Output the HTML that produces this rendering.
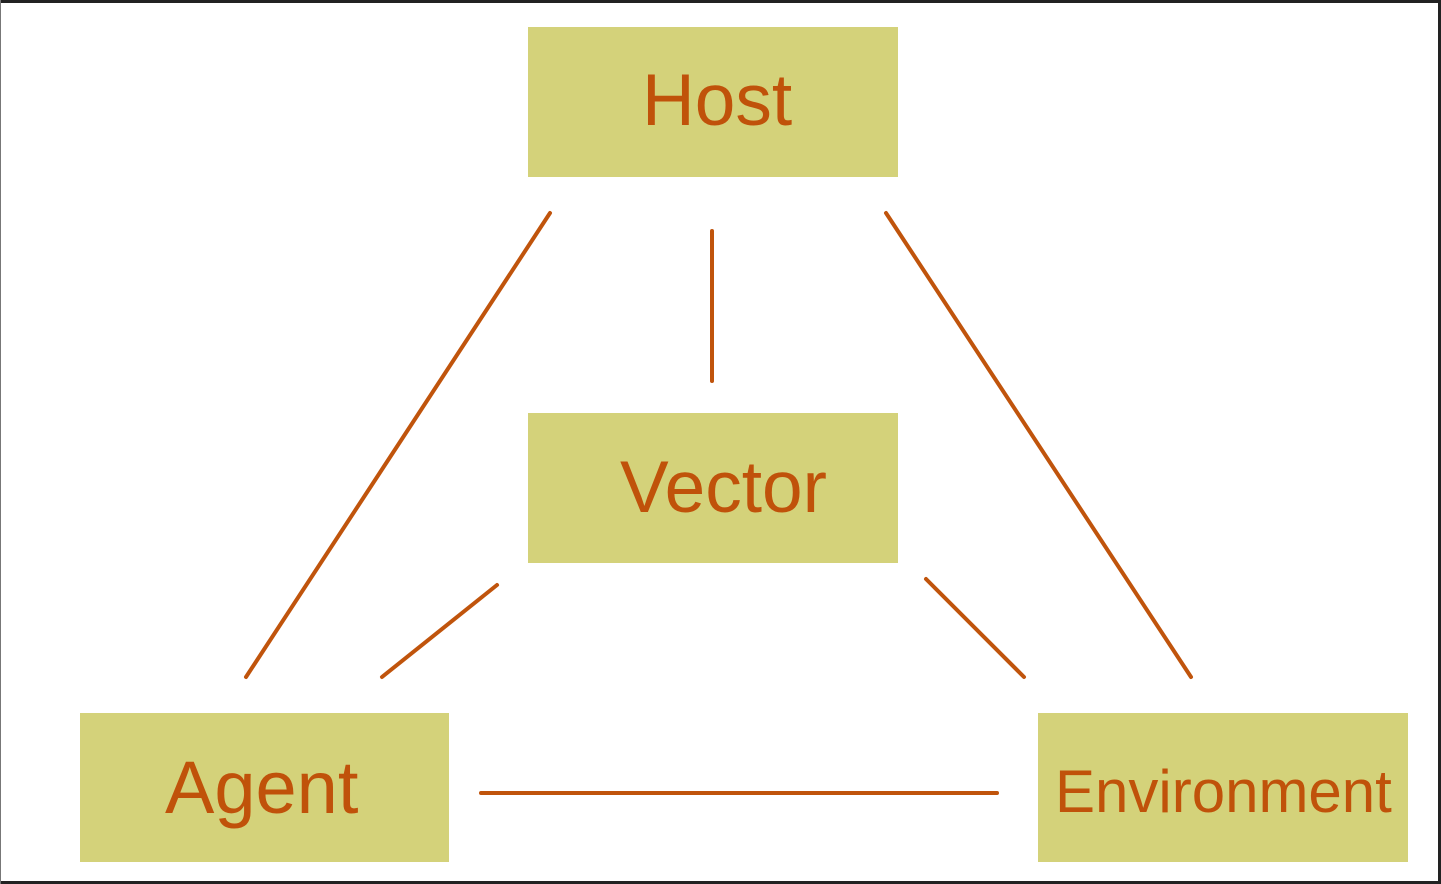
<!DOCTYPE html>
<html><head><meta charset="utf-8"><style>
html,body{margin:0;padding:0;background:#fff;}
body{width:1441px;height:884px;overflow:hidden;position:relative;}
svg{position:absolute;left:0;top:0;}
</style></head><body>
<svg width="1441" height="884" viewBox="0 0 1441 884" xmlns="http://www.w3.org/2000/svg">
<rect x="0" y="0" width="1441" height="884" fill="#fff"/>
<rect x="0" y="0" width="1441" height="3" fill="#222"/>
<rect x="0" y="881" width="1441" height="3" fill="#222"/>
<rect x="0" y="0" width="1" height="884" fill="#777"/>
<rect x="1438" y="0" width="3" height="884" fill="#222"/>
<g fill="#d4d27a">
<rect x="528" y="27" width="370" height="150"/>
<rect x="528" y="413" width="370" height="150"/>
<rect x="80" y="713" width="369" height="149"/>
<rect x="1038" y="713" width="370" height="149"/>
</g>
<g stroke="#c0540c" stroke-width="4" stroke-linecap="round">
<line x1="550" y1="213" x2="246" y2="677"/>
<line x1="712" y1="231" x2="712" y2="381"/>
<line x1="886" y1="213" x2="1191" y2="677"/>
<line x1="497" y1="585" x2="382" y2="677"/>
<line x1="926" y1="579" x2="1024" y2="677"/>
<line x1="481" y1="793" x2="997" y2="793"/>
</g>
<g fill="#c0520a" font-family="Liberation Sans, Arial, sans-serif">
<text x="642" y="125" font-size="73">Host</text>
<text x="620" y="512" font-size="73">Vector</text>
<text x="165" y="813" font-size="74">Agent</text>
<text x="1055" y="812" font-size="60">Environment</text>
</g>
</svg>
</body></html>
